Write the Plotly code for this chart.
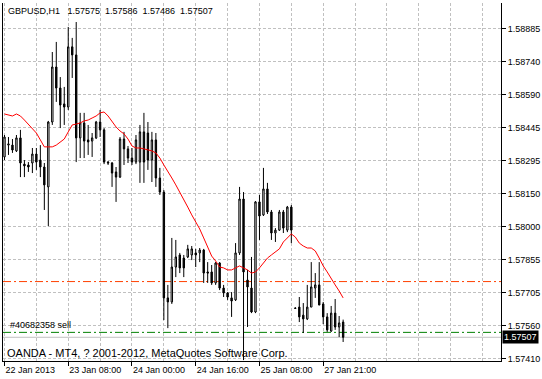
import plotly.graph_objects as go

# ---- data ----
opens = [1.58313, 1.58366, 1.58366, 1.58340, 1.58398, 1.58281, 1.58277, 1.58286, 1.58326, 1.58299,
         1.58268, 1.58179, 1.58469, 1.58715, 1.58621, 1.58550, 1.58536, 1.58805, 1.58769, 1.58398,
         1.58465, 1.58389, 1.58384, 1.58398, 1.58469, 1.58434, 1.58290, 1.58286, 1.58246, 1.58223,
         1.58393, 1.58349, 1.58308, 1.58290, 1.58290, 1.58425, 1.58420, 1.58299, 1.58389, 1.58219,
         1.58156, 1.57683, 1.57665, 1.57821, 1.57875, 1.57861, 1.57866, 1.57875, 1.57884, 1.57884,
         1.57897, 1.57799, 1.57799, 1.57750, 1.57839, 1.57727, 1.57705, 1.57683, 1.57674, 1.57884,
         1.58125, 1.57763, 1.57727, 1.57620, 1.58112, 1.58054, 1.58170, 1.58067, 1.57973, 1.57986,
         1.58067, 1.57986, 1.58089, 1.57638, 1.57642, 1.57606, 1.57589, 1.57642, 1.57727, 1.57741,
         1.57656, 1.57598, 1.57535, 1.57615, 1.57553, 1.57575]
highs = [1.58411, 1.58402, 1.58393, 1.58411, 1.58434, 1.58299, 1.58290, 1.58353, 1.58353, 1.58366,
         1.58286, 1.58474, 1.58782, 1.58827, 1.58670, 1.58626, 1.58894, 1.58845, 1.58916, 1.58510,
         1.58510, 1.58456, 1.58420, 1.58474, 1.58523, 1.58442, 1.58295, 1.58290, 1.58268, 1.58402,
         1.58425, 1.58362, 1.58353, 1.58411, 1.58456, 1.58510, 1.58469, 1.58425, 1.58420, 1.58264,
         1.58165, 1.57741, 1.57951, 1.57942, 1.57884, 1.57875, 1.57920, 1.57915, 1.57902, 1.57906,
         1.57902, 1.57843, 1.57830, 1.57843, 1.57843, 1.57741, 1.57709, 1.57709, 1.57928, 1.58179,
         1.58156, 1.57808, 1.57866, 1.58116, 1.58143, 1.58264, 1.58197, 1.58076, 1.57995, 1.58076,
         1.58076, 1.58094, 1.58098, 1.57641, 1.57687, 1.57660, 1.57741, 1.57843, 1.57794, 1.57843,
         1.57665, 1.57615, 1.57647, 1.57678, 1.57602, 1.57586]
lows = [1.58299, 1.58322, 1.58331, 1.58335, 1.58223, 1.58223, 1.58246, 1.58241, 1.58255, 1.58223,
        1.58076, 1.58004, 1.58456, 1.58559, 1.58442, 1.58456, 1.58523, 1.58666, 1.58290, 1.58308,
        1.58308, 1.58322, 1.58313, 1.58393, 1.58402, 1.58281, 1.58277, 1.58179, 1.58112, 1.58219,
        1.58277, 1.58286, 1.58277, 1.58281, 1.58197, 1.58197, 1.58255, 1.58201, 1.58179, 1.58143,
        1.57584, 1.57548, 1.57656, 1.57776, 1.57794, 1.57776, 1.57861, 1.57852, 1.57821, 1.57843,
        1.57750, 1.57750, 1.57741, 1.57741, 1.57718, 1.57687, 1.57674, 1.57598, 1.57669, 1.57875,
        1.57405, 1.57553, 1.57615, 1.57615, 1.57942, 1.58049, 1.58058, 1.57942, 1.57933, 1.57982,
        1.57973, 1.57977, 1.57928, 1.57634, 1.57575, 1.57526, 1.57584, 1.57642, 1.57683, 1.57651,
        1.57566, 1.57531, 1.57531, 1.57540, 1.57508, 1.57486]
closes = [1.58402, 1.58371, 1.58344, 1.58398, 1.58286, 1.58273, 1.58268, 1.58326, 1.58290, 1.58268,
          1.58188, 1.58469, 1.58715, 1.58621, 1.58545, 1.58536, 1.58805, 1.58769, 1.58398, 1.58465,
          1.58384, 1.58380, 1.58398, 1.58469, 1.58434, 1.58290, 1.58286, 1.58241, 1.58223, 1.58393,
          1.58349, 1.58308, 1.58290, 1.58389, 1.58425, 1.58290, 1.58299, 1.58389, 1.58219, 1.58156,
          1.57683, 1.57665, 1.57821, 1.57866, 1.57817, 1.57817, 1.57902, 1.57902, 1.57875, 1.57897,
          1.57794, 1.57794, 1.57750, 1.57839, 1.57727, 1.57705, 1.57687, 1.57669, 1.57884, 1.58125,
          1.57799, 1.57732, 1.57620, 1.58112, 1.58049, 1.58170, 1.58067, 1.57973, 1.57986, 1.58067,
          1.57995, 1.58089, 1.57986, 1.57636, 1.57598, 1.57589, 1.57642, 1.57732, 1.57741, 1.57651,
          1.57598, 1.57540, 1.57615, 1.57553, 1.57571, 1.57507]
ma = [1.58505, 1.58501, 1.58496, 1.58505, 1.58496, 1.58478, 1.58460, 1.58442, 1.58420, 1.58389,
      1.58358, 1.58358, 1.58358, 1.58366, 1.58380, 1.58393, 1.58425, 1.58456, 1.58460, 1.58465,
      1.58474, 1.58478, 1.58487, 1.58496, 1.58510, 1.58514, 1.58496, 1.58469, 1.58447, 1.58429,
      1.58416, 1.58393, 1.58362, 1.58353, 1.58353, 1.58349, 1.58344, 1.58340, 1.58331, 1.58308,
      1.58277, 1.58250, 1.58219, 1.58188, 1.58156, 1.58125, 1.58089, 1.58054, 1.58022, 1.57991,
      1.57951, 1.57906, 1.57870, 1.57848, 1.57821, 1.57817, 1.57808, 1.57808, 1.57817, 1.57826,
      1.57817, 1.57808, 1.57794, 1.57799, 1.57817, 1.57839, 1.57861, 1.57875, 1.57888, 1.57902,
      1.57933, 1.57951, 1.57969, 1.57955, 1.57928, 1.57915, 1.57906, 1.57906, 1.57893, 1.57861,
      1.57826, 1.57799, 1.57767, 1.57741, 1.57714, 1.57683]

time_tick_bars = [0, 16, 32, 48, 64, 80]
time_tick_labels = ["22 Jan 2013", "23 Jan 08:00", "24 Jan 00:00",
                    "24 Jan 16:00", "25 Jan 08:00", "27 Jan 21:00"]
price_ticks = [1.58885, 1.58740, 1.58590, 1.58445, 1.58295, 1.58150,
               1.58000, 1.57855, 1.57705, 1.57560, 1.57410]
bid_price = 1.57507
order_price = 1.57529
stop_price = 1.57756
order_label = "#40682358 sell"
symbol = "GBPUSD,H1"
last_ohlc = ["1.57575", "1.57586", "1.57486", "1.57507"]
footer = "OANDA - MT4, ? 2001-2012, MetaQuotes Software Corp."

bars = list(range(len(closes)))
FONT = "Liberation Sans"
GRID = "#C0C0C0"
NB = "\u00a0"

fig = go.Figure()

# level lines (drawn under candles)
fig.add_hline(y=bid_price, line=dict(color="#C0C0C0", width=1), layer="below")
fig.add_hline(y=order_price, line=dict(color="#008000", width=1, dash="8px,3px,2px,3px"), layer="below")
fig.add_hline(y=stop_price, line=dict(color="#FF4000", width=1, dash="8px,3px,2px,3px"), layer="below")

fig.add_trace(go.Candlestick(
    x=bars, open=opens, high=highs, low=lows, close=closes,
    increasing=dict(line=dict(color="black", width=1), fillcolor="white"),
    decreasing=dict(line=dict(color="black", width=1), fillcolor="black"),
    whiskerwidth=0, hoverinfo="skip", showlegend=False,
))
fig.add_trace(go.Scatter(
    x=bars, y=ma, mode="lines", line=dict(color="#FF0000", width=1),
    hoverinfo="skip", showlegend=False,
))

fig.update_layout(
    width=542, height=379,
    margin=dict(l=2, r=40, t=3, b=18),
    paper_bgcolor="white", plot_bgcolor="white",
    font=dict(family=FONT, size=9, color="black"),
    showlegend=False,
    boxgap=0.5,
    xaxis=dict(
        range=[-0.375, 124.625], rangeslider=dict(visible=False),
        showline=True, linecolor="black", linewidth=1,
        ticks="outside", ticklen=4, tickcolor="black", tickwidth=1,
        tickvals=time_tick_bars, ticktext=time_tick_labels,
        ticklabelposition="outside right",
        tickfont=dict(family=FONT, size=9, color="black"),
        showgrid=True, gridcolor=GRID, griddash="3px,2px", gridwidth=1,
        minor=dict(tickmode="linear", tick0=0, dtick=8, showgrid=True,
                   gridcolor=GRID, griddash="3px,2px", ticks=""),
        zeroline=False, fixedrange=True,
    ),
    yaxis=dict(
        range=[1.57401, 1.59001], side="right",
        showline=True, mirror=True, linecolor="black", linewidth=1,
        ticks="outside", ticklen=4, tickcolor="black", tickwidth=1,
        tickvals=price_ticks, ticktext=[f"{p:.5f}" for p in price_ticks],
        tickfont=dict(family=FONT, size=9, color="black"),
        showgrid=True, gridcolor=GRID, griddash="3px,2px", gridwidth=1,
        zeroline=False, fixedrange=True,
    ),
)

header = symbol + NB * 3 + (NB * 2).join(last_ohlc)
fig.add_annotation(xref="paper", yref="paper", x=0, y=1, xanchor="left", yanchor="top",
                   xshift=3, yshift=-1, text=header, showarrow=False,
                   font=dict(family=FONT, size=9, color="black"))
fig.add_annotation(xref="paper", yref="y", x=0, y=order_price, xanchor="left", yanchor="bottom",
                   xshift=5, yshift=0, text=order_label, showarrow=False,
                   font=dict(family=FONT, size=9, color="black"))
fig.add_annotation(xref="paper", yref="paper", x=0, y=0, xanchor="left", yanchor="bottom",
                   xshift=2, yshift=0, text=footer, showarrow=False,
                   font=dict(family=FONT, size=11, color="black"))
fig.add_annotation(xref="paper", yref="y", x=1, y=bid_price, xanchor="left", yanchor="middle",
                   xshift=1, text=f"{bid_price:.5f}", showarrow=False,
                   bgcolor="black", borderpad=1, font=dict(family=FONT, size=9, color="white"))

fig.write_html("out.html")
